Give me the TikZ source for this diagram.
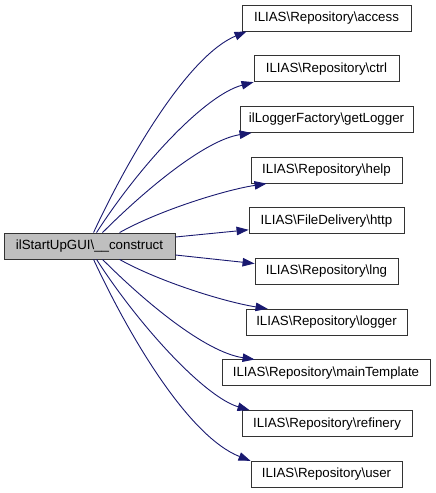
\documentclass[tikz,border=0pt]{standalone}
\usepackage{fontspec}
\setmainfont{Liberation Sans}
\usetikzlibrary{arrows.meta}
\definecolor{edgeblue}{HTML}{191970}
\definecolor{boxgray}{HTML}{BFBFBF}
\newcommand{\bsl}{\textbackslash}
\begin{document}
\begin{tikzpicture}[x=1pt,y=-1pt,
  box/.style={draw=black!80, line width=0.9pt, fill=white, minimum height=26pt, inner sep=0pt, font=\fontsize{13.3}{16}\selectfont},
  edge/.style={draw=edgeblue, line width=0.9pt, -{Triangle[length=12pt,width=8.5pt]}}]
\useasboundingbox (0,0) rectangle (436,493);
\node[box, fill=boxgray, minimum width=171pt] (main) at (89.5,246) {ilStartUpGUI\bsl\_\_construct};
\node[box, minimum width=169pt] (access) at (326.5,18) {ILIAS\bsl Repository\bsl access};
\node[box, minimum width=145pt] (ctrl) at (326.5,68.7) {ILIAS\bsl Repository\bsl ctrl};
\node[box, minimum width=173pt] (getLogger) at (326.5,119.4) {ilLoggerFactory\bsl getLogger};
\node[box, minimum width=151pt] (help) at (326.5,170.1) {ILIAS\bsl Repository\bsl help};
\node[box, minimum width=155pt] (http) at (326.5,220.8) {ILIAS\bsl FileDelivery\bsl http};
\node[box, minimum width=143pt] (lng) at (326.5,271.5) {ILIAS\bsl Repository\bsl lng};
\node[box, minimum width=161pt] (logger) at (326.5,322.2) {ILIAS\bsl Repository\bsl logger};
\node[box, minimum width=208pt] (mainTemplate) at (326,372.9) {ILIAS\bsl Repository\bsl mainTemplate};
\node[box, minimum width=170pt] (refinery) at (327,423.6) {ILIAS\bsl Repository\bsl refinery};
\node[box, minimum width=151pt] (user) at (326.5,474.3) {ILIAS\bsl Repository\bsl user};

\draw[edge] ([xshift=90pt]main.north west) .. controls (132,150) and (190,55) .. ([xshift=5pt]access.south west);
\draw[edge] ([xshift=93pt]main.north west) .. controls (140,165) and (205,95) .. (ctrl.south west);
\draw[edge] ([xshift=99pt]main.north west) .. controls (145,190) and (205,140) .. ([xshift=12pt]getLogger.south west);
\draw[edge] ([xshift=116pt]main.north west) .. controls (160,210) and (225,190) .. ([xshift=16pt]help.south west);
\draw[edge] ([yshift=9pt]main.east) -- ([yshift=-9pt]http.west);
\draw[edge] ([yshift=-9pt]main.east) -- ([yshift=8pt]lng.west);
\draw[edge] ([xshift=116pt]main.south west) .. controls (160,282) and (225,302) .. ([xshift=22pt]logger.north west);
\draw[edge] ([xshift=99pt]main.south west) .. controls (145,302) and (205,352) .. ([xshift=33pt]mainTemplate.north west);
\draw[edge] ([xshift=93pt]main.south west) .. controls (140,327) and (205,397) .. ([xshift=8pt]refinery.north west);
\draw[edge] ([xshift=90pt]main.south west) .. controls (132,342) and (190,437) .. (user.north west);
\end{tikzpicture}
\end{document}
